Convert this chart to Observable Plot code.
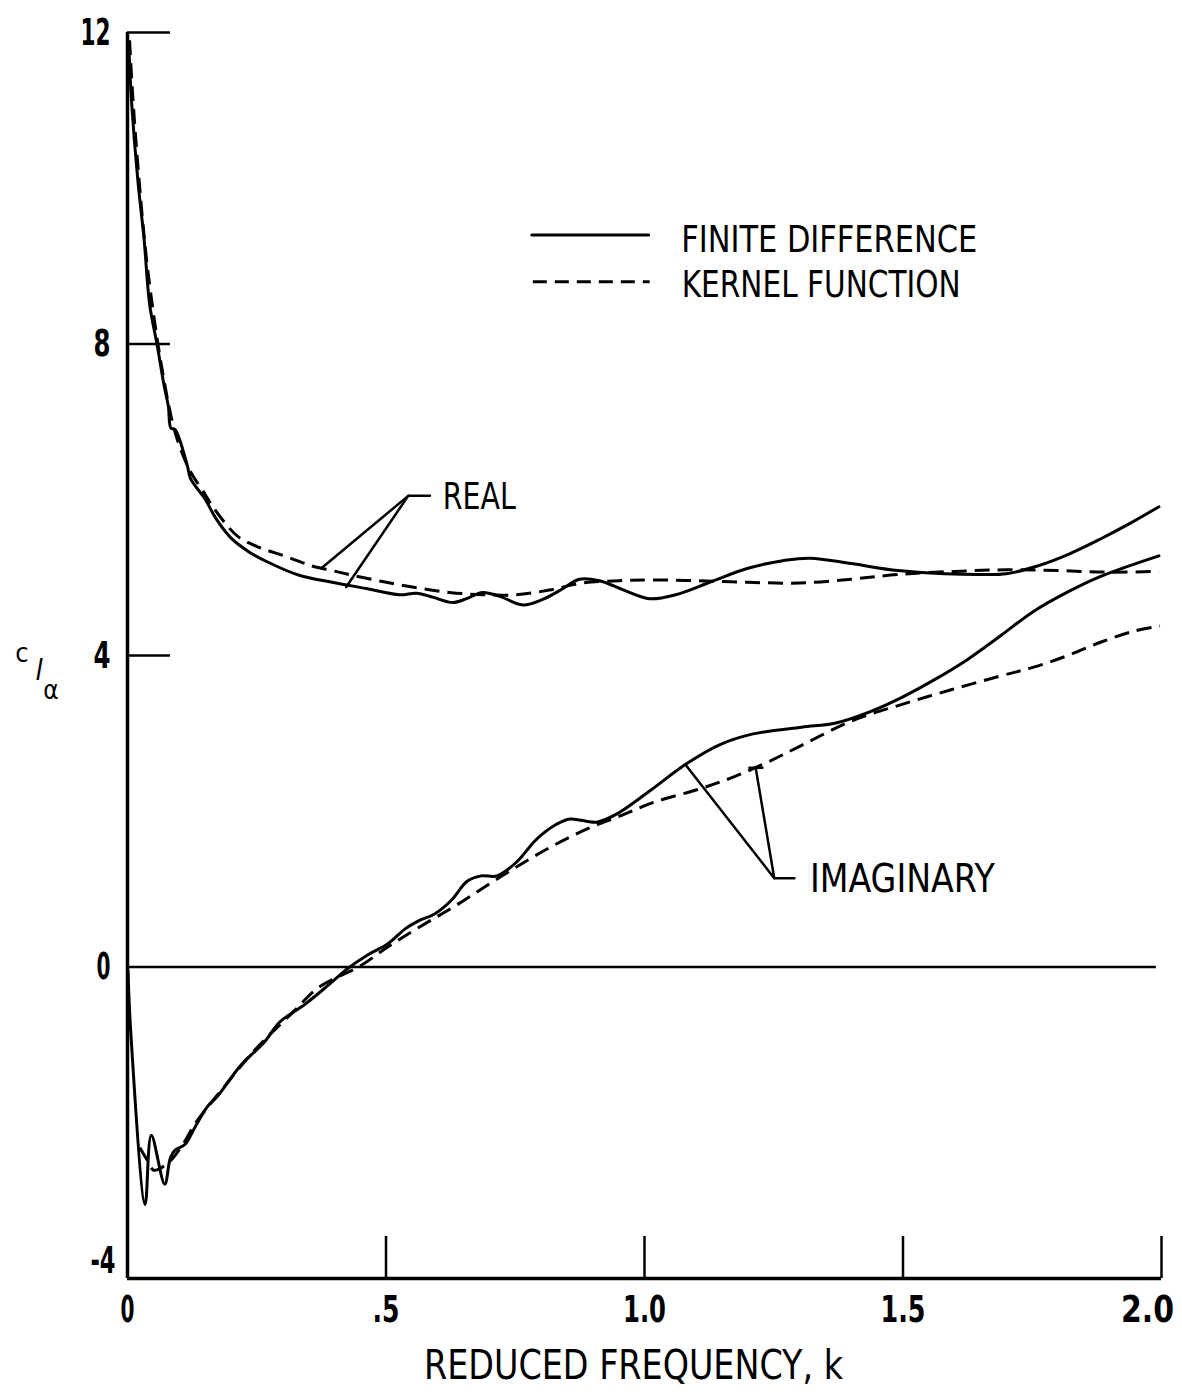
<!DOCTYPE html>
<html><head><meta charset="utf-8">
<script src="https://cdn.jsdelivr.net/npm/d3@7"></script>
<script src="https://cdn.jsdelivr.net/npm/@observablehq/plot@0.6"></script>
<style>
html,body{margin:0;padding:0;background:#fff;}
#chart svg{display:block;}
</style></head><body><div id="chart"></div>
<script>
// ---- Data (reduced frequency k, lift-curve slope c_l_alpha) ----
const realFDk = [0.003,0.008,0.02,0.032,0.043,0.057,0.071,0.079,0.084,0.092,0.116,0.122,0.15,0.17,0.2,0.235,0.268,0.332,0.396,0.462,0.526,0.559,0.59,0.629,0.656,0.687,0.72,0.765,0.803,0.84,0.874,0.913,0.96,1.01,1.06,1.13,1.2,1.27,1.32,1.4,1.49,1.58,1.65,1.7,1.76,1.82,1.88,1.94,1.995];
const realFDv = [11.75,11.1,10.1,9.35,8.5,8.0,7.46,7.2,6.92,6.9,6.43,6.27,6.01,5.77,5.51,5.33,5.21,5.03,4.94,4.86,4.78,4.8,4.75,4.68,4.73,4.81,4.76,4.65,4.72,4.85,4.98,4.96,4.84,4.73,4.78,4.95,5.12,5.22,5.25,5.18,5.09,5.05,5.04,5.05,5.15,5.3,5.49,5.7,5.91];

const realKFk = [0.004,0.01,0.02,0.035,0.05,0.065,0.085,0.1,0.122,0.15,0.162,0.19,0.215,0.254,0.307,0.357,0.396,0.435,0.493,0.559,0.623,0.687,0.752,0.816,0.88,0.95,1.01,1.1,1.2,1.3,1.4,1.49,1.6,1.7,1.8,1.9,1.995];
const realKFv = [11.9,11.2,10.3,9.2,8.4,7.75,7.05,6.7,6.36,6.07,5.94,5.69,5.52,5.39,5.27,5.15,5.09,5.03,4.95,4.87,4.81,4.78,4.78,4.84,4.93,4.96,4.97,4.96,4.94,4.93,4.98,5.04,5.08,5.1,5.09,5.07,5.08];

const imagFDk = [0.001,0.006,0.034,0.046,0.072,0.083,0.092,0.111,0.131,0.155,0.174,0.218,0.264,0.294,0.345,0.389,0.428,0.466,0.504,0.537,0.562,0.594,0.627,0.657,0.684,0.715,0.753,0.791,0.829,0.856,0.907,0.945,1.01,1.079,1.144,1.208,1.304,1.368,1.433,1.497,1.561,1.625,1.688,1.751,1.817,1.88,1.995];
const imagFDv = [-0.05,-0.8,-3.05,-2.16,-2.79,-2.45,-2.35,-2.28,-2.05,-1.79,-1.66,-1.27,-0.97,-0.71,-0.47,-0.23,-0.01,0.16,0.3,0.49,0.59,0.68,0.86,1.1,1.17,1.17,1.35,1.64,1.83,1.9,1.86,1.96,2.26,2.6,2.85,2.99,3.08,3.13,3.27,3.46,3.69,3.95,4.25,4.56,4.81,5.01,5.28];

const imagKFk = [0.024,0.04,0.051,0.076,0.104,0.131,0.161,0.193,0.231,0.269,0.32,0.368,0.409,0.447,0.504,0.569,0.633,0.696,0.761,0.824,0.888,0.953,1.016,1.113,1.176,1.241,1.305,1.401,1.497,1.593,1.69,1.753,1.819,1.882,1.945,1.997];
const imagKFv = [-2.32,-2.5,-2.61,-2.53,-2.31,-2.01,-1.75,-1.49,-1.18,-0.91,-0.58,-0.27,-0.12,0.0,0.26,0.53,0.78,1.05,1.32,1.56,1.77,1.94,2.11,2.3,2.45,2.64,2.85,3.16,3.37,3.56,3.74,3.85,4.0,4.17,4.31,4.38];

const xTickValues = [0, 0.5, 1, 1.5, 2];
const xTickLabels = ["0", ".5", "1.0", "1.5", "2.0"];
const yTickValues = [12, 8, 4, 0, -4];
const yTickLabels = ["12", "8", "4", "0", "-4"];
const yTickMarks = [12, 8, 4];
const xTickMarks = [0.5, 1, 1.5, 2];

const xTitle = "REDUCED FREQUENCY, k";
const legendLabels = ["FINITE DIFFERENCE", "KERNEL FUNCTION"];
const curveLabels = ["REAL", "IMAGINARY"];

// ---- Annotation geometry (chart units) ----
const realLeaderA = [[0.375,5.12],[0.543,6.05],[0.585,6.05]];
const realLeaderB = [[0.423,4.88],[0.543,6.05]];
const imagLeaderA = [[1.079,2.6],[1.251,1.14],[1.29,1.14]];
const imagLeaderB = [[1.215,2.56],[1.251,1.14]];
const imagCap = [[1.203,2.56],[1.228,2.56]];
const legendSolid = [[0.782,9.4],[1.008,9.4]];
const legendDashed = [[0.784,8.8],[1.01,8.8]];

const rows = (ks, vs) => ks.map((k, i) => ({k, v: vs[i]}));
const realFD = rows(realFDk, realFDv);
const realKF = rows(realKFk, realKFv);
const imagFD = rows(imagFDk, imagFDv);
const imagKF = rows(imagKFk, imagKFv);
const yTicks = yTickValues.map((v, i) => ({v, label: yTickLabels[i]}));
const xTicks = xTickValues.map((v, i) => ({v, label: xTickLabels[i]}));

const FONT = '"DejaVu Sans Condensed","Liberation Sans Narrow","DejaVu Sans",sans-serif';
const DASH = "15,8";
const lw = 3;

const plot = Plot.plot({
  width: 1182, height: 1396,
  marginLeft: 127, marginRight: 21, marginTop: 32, marginBottom: 118,
  x: {domain: [0, 2], axis: null},
  y: {domain: [-4, 12], axis: null},
  style: {fontFamily: FONT, background: "#fff", color: "#000"},
  marks: [
    // frame axes
    Plot.ruleX([0], {y1: -4, y2: 12, stroke: "#000", strokeWidth: 3.5}),
    Plot.ruleY([-4], {x1: 0, x2: 2, stroke: "#000", strokeWidth: 3.5}),
    Plot.ruleY([0], {x1: 0, x2: 1.99, stroke: "#000", strokeWidth: 2.5}),
    Plot.ruleY(yTickMarks, {x1: 0, x2: 0.083, stroke: "#000", strokeWidth: 2.5}),
    Plot.ruleX(xTickMarks, {y1: -4, y2: -3.46, stroke: "#000", strokeWidth: 2.5}),
    // tick labels
    Plot.text(yTicks.filter(d => d.v !== -4), {x: 0, y: "v", text: "label", textAnchor: "end", dx: -17, fontSize: 38, fontWeight: "bold", fill: "#000"}),
    Plot.text(yTicks.filter(d => d.v === -4), {x: 0, y: "v", text: "label", textAnchor: "end", dx: -12, dy: -18, fontSize: 38, fontWeight: "bold", fill: "#000"}),
    Plot.text(xTicks.filter(d => d.v < 2), {x: "v", y: -4, text: "label", lineAnchor: "top", dy: 17, fontSize: 38, fontWeight: "bold", fill: "#000"}),
    Plot.text(xTicks.filter(d => d.v === 2), {x: "v", y: -4, text: "label", lineAnchor: "top", dy: 17, dx: -14, fontSize: 38, fontWeight: "bold", fill: "#000"}),
    Plot.text([xTitle], {frameAnchor: "bottom", text: d => d, dy: 100, dx: -11, fontSize: 40, fill: "#000"}),
    // curves
    Plot.line(realFD, {x: "k", y: "v", curve: "catmull-rom", stroke: "#000", strokeWidth: lw}),
    Plot.line(realKF, {x: "k", y: "v", curve: "catmull-rom", stroke: "#000", strokeWidth: lw, strokeDasharray: DASH, strokeLinecap: "butt"}),
    Plot.line(imagFD, {x: "k", y: "v", curve: "catmull-rom", stroke: "#000", strokeWidth: lw}),
    Plot.line(imagKF, {x: "k", y: "v", curve: "catmull-rom", stroke: "#000", strokeWidth: lw, strokeDasharray: DASH, strokeLinecap: "butt"}),
    // leaders and labels
    Plot.line(realLeaderA, {stroke: "#000", strokeWidth: 2.5}),
    Plot.line(realLeaderB, {stroke: "#000", strokeWidth: 2.5}),
    Plot.line(imagLeaderA, {stroke: "#000", strokeWidth: 2.5}),
    Plot.line(imagLeaderB, {stroke: "#000", strokeWidth: 2.5}),
    Plot.line(imagCap, {stroke: "#000", strokeWidth: 2.5}),
    Plot.text([curveLabels[0]], {x: 0.61, y: 6.04, text: d => d, textAnchor: "start", fontSize: 38, fill: "#000"}),
    Plot.text([curveLabels[1]], {x: 1.32, y: 1.12, text: d => d, textAnchor: "start", fontSize: 39, fill: "#000"}),
    // legend
    Plot.line(legendSolid, {stroke: "#000", strokeWidth: lw}),
    Plot.line(legendDashed, {stroke: "#000", strokeWidth: lw, strokeDasharray: "14,8", strokeLinecap: "butt"}),
    Plot.text([legendLabels[0]], {x: 1.071, y: 9.33, text: d => d, textAnchor: "start", fontSize: 37, fill: "#000"}),
    Plot.text([legendLabels[1]], {x: 1.072, y: 8.75, text: d => d, textAnchor: "start", fontSize: 37, fill: "#000"})
  ]
});

// fit text widths to the lettering of the original
const widths = {"FINITE DIFFERENCE": 296, "KERNEL FUNCTION": 279, "REAL": 73, "IMAGINARY": 185,
  "REDUCED FREQUENCY, k": 419, "12": 30, "8": 17, "4": 17, "0": 14, "-4": 25, ".5": 27, "1.0": 43, "1.5": 45, "2.0": 53};
d3.select(plot).selectAll("text").each(function() {
  const t = this.textContent;
  if (widths[t]) { this.setAttribute("textLength", widths[t]); this.setAttribute("lengthAdjust", "spacingAndGlyphs"); }
});

// y-axis label c_l_alpha
const svg = d3.select(plot);
const g = svg.append("g").attr("font-family", FONT).attr("fill", "#000");
g.append("text").attr("x", 22).attr("y", 662).attr("font-size", 27).text("c");
g.append("text").attr("x", 39).attr("y", 680).attr("font-size", 29).attr("font-style", "italic").text("l");
g.append("text").attr("x", 51).attr("y", 699).attr("font-size", 26).text("α");

document.getElementById("chart").appendChild(plot);
</script>
</body></html>
